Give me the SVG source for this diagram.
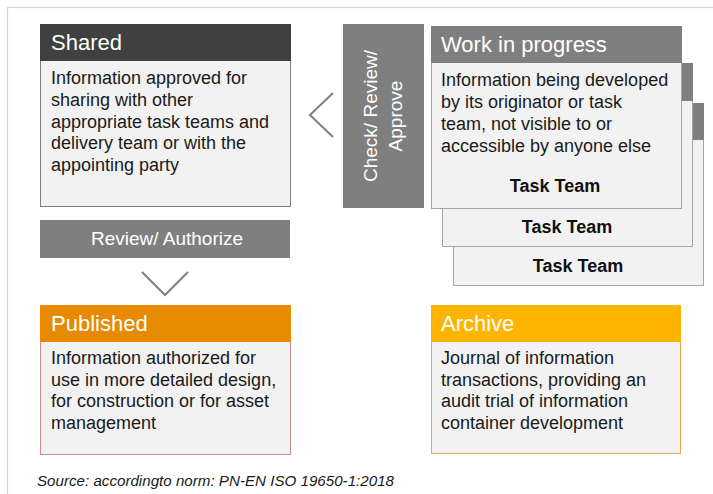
<svg xmlns="http://www.w3.org/2000/svg" width="713" height="494" viewBox="0 0 713 494">
  <style>
    text { font-family: "Liberation Sans", Arial, sans-serif; }
    .head { font-size: 22px; fill: #ffffff; }
    .body { font-size: 18px; fill: #1a1a1a; }
    .team { font-size: 18px; font-weight: bold; fill: #111111; text-anchor: middle; }
    .step { font-size: 19px; fill: #ffffff; text-anchor: middle; }
    .card { fill: #f2f2f2; stroke: #a6a6a6; stroke-width: 1; }
    .chev { fill: none; stroke: #7f7f7f; stroke-width: 2; }
  </style>

  <rect width="713" height="494" fill="#ffffff"/>
  <!-- outer frame -->
  <rect x="7.5" y="7.5" width="720" height="500" fill="none" stroke="#d6d6d6" stroke-width="1.2"/>

  <!-- Shared container state -->
  <g id="shared">
    <rect x="40.5" y="24.5" width="250" height="182" fill="#f2f2f2" stroke="#7f7f7f"/>
    <rect x="40" y="24" width="251" height="37" fill="#404040"/>
    <text class="head" x="51" y="50">Shared</text>
    <text class="body" x="51" y="84">Information approved for</text>
    <text class="body" x="51" y="106">sharing with other</text>
    <text class="body" x="51" y="127.5">appropriate task teams and</text>
    <text class="body" x="51" y="149">delivery team or with the</text>
    <text class="body" x="51" y="170.5">appointing party</text>
  </g>

  <!-- Check / Review / Approve transition -->
  <g id="check-review-approve">
    <rect x="343" y="24" width="81" height="184" fill="#7f7f7f"/>
    <text class="step" transform="rotate(-90)" x="-116" y="377">Check/ Review/</text>
    <text class="step" transform="rotate(-90)" x="-116" y="402">Approve</text>
  </g>

  <!-- Work in progress: stacked task team cards, back to front -->
  <g id="wip-card-3">
    <rect class="card" x="453.5" y="103.5" width="250" height="182"/>
    <rect x="453" y="103" width="251" height="37" fill="#7f7f7f"/>
    <text class="team" x="578" y="272">Task Team</text>
  </g>
  <g id="wip-card-2">
    <rect class="card" x="442.5" y="63.5" width="250" height="183"/>
    <rect x="442" y="63" width="251" height="38" fill="#7f7f7f"/>
    <text class="team" x="567" y="233">Task Team</text>
  </g>
  <g id="work-in-progress">
    <rect class="card" x="431.5" y="26.5" width="250" height="182"/>
    <rect x="431" y="26" width="251" height="37" fill="#7f7f7f"/>
    <text class="head" x="441" y="52">Work in progress</text>
    <text class="body" x="441" y="86">Information being developed</text>
    <text class="body" x="441" y="108">by its originator or task</text>
    <text class="body" x="441" y="130">team, not visible to or</text>
    <text class="body" x="441" y="152">accessible by anyone else</text>
    <text class="team" x="555" y="192">Task Team</text>
  </g>

  <!-- Review / Authorize transition -->
  <g id="review-authorize">
    <rect x="40" y="220" width="250" height="38" fill="#7f7f7f"/>
    <text class="step" x="167" y="245">Review/ Authorize</text>
  </g>

  <!-- Published container state -->
  <g id="published">
    <rect x="40.5" y="305.5" width="250" height="149" fill="#f2f2f2" stroke="#c98a92"/>
    <rect x="40" y="305" width="251" height="37" fill="#e88a00"/>
    <text class="head" x="51" y="331">Published</text>
    <text class="body" x="51" y="364">Information authorized for</text>
    <text class="body" x="51" y="386">use in more detailed design,</text>
    <text class="body" x="51" y="407">for construction or for asset</text>
    <text class="body" x="51" y="429">management</text>
  </g>

  <!-- Archive container state -->
  <g id="archive">
    <rect x="431.5" y="305.5" width="249" height="148" fill="#f2f2f2" stroke="#e6a84e"/>
    <rect x="431" y="305" width="250" height="37" fill="#ffb400"/>
    <text class="head" x="441" y="331">Archive</text>
    <text class="body" x="441" y="364">Journal of information</text>
    <text class="body" x="441" y="386">transactions, providing an</text>
    <text class="body" x="441" y="407">audit trial of information</text>
    <text class="body" x="441" y="429">container development</text>
  </g>

  <!-- flow chevrons -->
  <g id="connectors">
    <polyline class="chev" points="333,93 310,115 333,137"/>
    <polyline class="chev" points="142,272 165,295 188,272"/>
  </g>

  <text x="37" y="486" font-size="15" font-style="italic" fill="#1a1a1a" textLength="357" lengthAdjust="spacingAndGlyphs">Source: accordingto norm: PN-EN ISO 19650-1:2018</text>
</svg>
